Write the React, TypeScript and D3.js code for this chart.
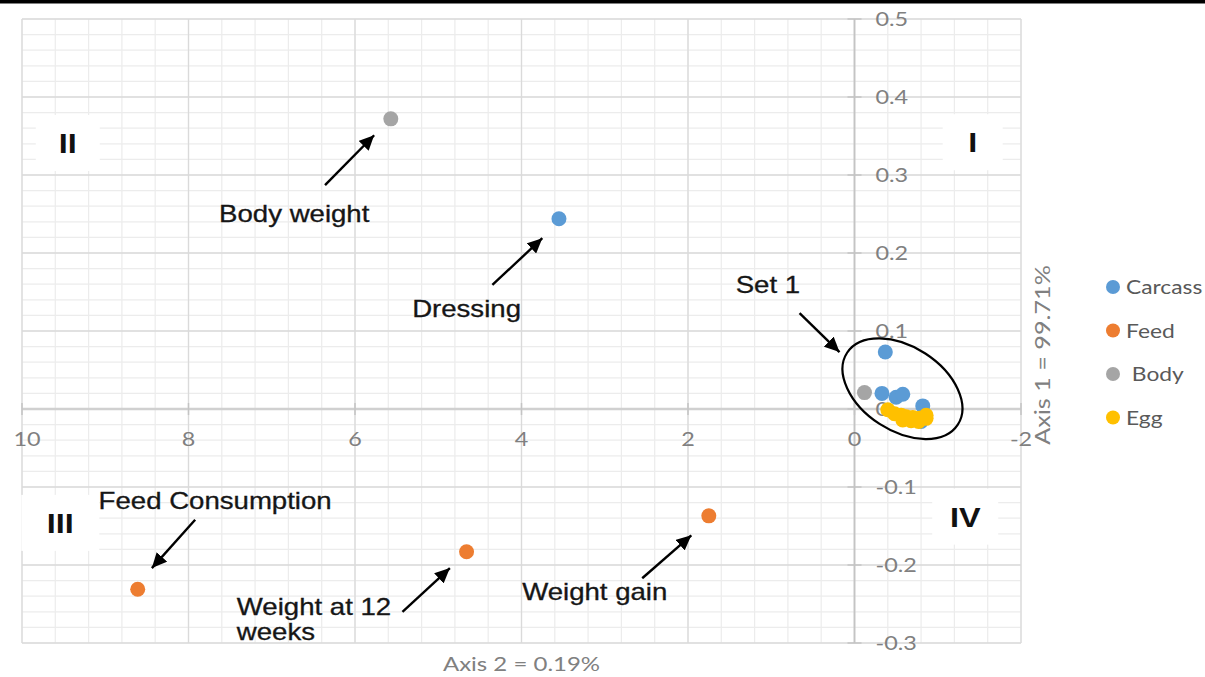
import React from "react";
import * as d3 from "d3";

const W = 1205;
const H = 677;

// ---- data ----
const seriesNames = ["Carcass", "Feed", "Body", "Egg"];
const legendLabels = ["Carcass", "Feed", " Body", "Egg"];
const seriesColors = ["#5B9BD5", "#ED7D31", "#A5A5A5", "#FFC000"];

const carcassX = [3.55, -0.37, -0.33, -0.5, -0.58, -0.82, -0.8, -0.7];
const carcassY = [0.244, 0.073, 0.02, 0.015, 0.019, 0.004, -0.016, -0.012];

const feedX = [8.61, 4.66, 1.75];
const feedY = [-0.231, -0.183, -0.137];

const bodyX = [5.57, -0.12];
const bodyY = [0.372, 0.021];

const eggX = [-0.4, -0.48, -0.56, -0.62, -0.7, -0.78, -0.86, -0.58, -0.68, -0.86, -0.77];
const eggY = [-0.001, -0.006, -0.008, -0.01, -0.011, -0.012, -0.012, -0.014, -0.015, -0.008, -0.016];

const xTicks = [10, 8, 6, 4, 2, 0, -2];
const xTickLabels = ["10", "8", "6", "4", "2", "0", "-2"];
const yTicks = [0.5, 0.4, 0.3, 0.2, 0.1, 0, -0.1, -0.2, -0.3];
const yTickLabels = ["0.5", "0.4", "0.3", "0.2", "0.1", "0", "-0.1", "-0.2", "-0.3"];

const xTitle = "Axis 2 = 0.19%";
const yTitle = "Axis 1 = 99.71%";

// annotations (data coordinates)
const annLabels = ["Body weight", "Dressing", "Set 1", "Feed Consumption", "Weight gain"];
const annX = [6.73, 4.66, 1.04, 7.68, 3.12];
const annY = [0.24, 0.118, 0.149, -0.128, -0.245];
const wk12Lines = ["Weight at 12", "weeks"];
const wk12X = 7.42;
const wk12Y = [-0.264, -0.296];

// arrows: tail -> tip
const arrowX1 = [6.36, 4.35, 0.66, 7.92, 5.43, 2.55];
const arrowY1 = [0.287, 0.159, 0.123, -0.142, -0.26, -0.217];
const arrowX2 = [5.77, 3.75, 0.18, 8.44, 4.86, 1.96];
const arrowY2 = [0.351, 0.219, 0.073, -0.204, -0.204, -0.162];

const quadLabels = ["II", "I", "III", "IV"];
const quadX = [9.45, -1.42, 9.54, -1.33];
const quadY = [0.341, 0.342, -0.146, -0.138];
const quadBoxW = [64, 60, 78, 66];

const setEllipseX = -0.576;
const setEllipseY = 0.026;

export default function App() {
  const x = d3.scaleLinear().domain([10, -2]).range([22, 1021]);
  const y = d3.scaleLinear().domain([-0.3, 0.5]).range([643, 19]);

  const minorX = d3.range(0, 31).map((k) => +(10 - 0.4 * k).toFixed(2));
  const minorY = d3.range(0, 41).map((k) => +(-0.3 + 0.02 * k).toFixed(3));

  const SX = 1.2;
  const tickFont = "Lato, 'Open Sans', sans-serif";
  const labFont = "'Liberation Sans', Arial, sans-serif";
  const tickColor = "#808080";

  const series = [
    { xs: carcassX, ys: carcassY },
    { xs: feedX, ys: feedY },
    { xs: bodyX, ys: bodyY },
    { xs: eggX, ys: eggY },
  ];

  const sText = (
    key: string,
    tx: number,
    ty: number,
    txt: string,
    props: any
  ) => (
    <text key={key} transform={`translate(${tx},${ty}) scale(${SX},1)`} {...props}>
      {txt}
    </text>
  );

  return (
    <div style={{ position: "absolute", left: 0, top: 0 }}>
      <svg width={W} height={H} style={{ display: "block", background: "#fff" }}>
        <defs>
          <marker
            id="ah"
            markerUnits="userSpaceOnUse"
            markerWidth={16}
            markerHeight={14}
            refX={15}
            refY={7}
            orient="auto"
          >
            <path d="M0,0 L15,7 L0,14 Z" fill="#000" />
          </marker>
        </defs>
        <rect x={0} y={0} width={W} height={3.5} fill="#000" />

        {/* minor grid */}
        <g stroke="#ececec" strokeWidth={1.2}>
          {minorX.map((v, i) => (
            <line key={"mx" + i} x1={x(v)} x2={x(v)} y1={y(0.5)} y2={y(-0.3)} />
          ))}
          {minorY.map((v, i) => (
            <line key={"my" + i} x1={x(10)} x2={x(-2)} y1={y(v)} y2={y(v)} />
          ))}
        </g>
        {/* major grid */}
        <g stroke="#dadada" strokeWidth={1.3}>
          {xTicks.map((v, i) => (
            <line key={"Mx" + i} x1={x(v)} x2={x(v)} y1={y(0.5)} y2={y(-0.3)} />
          ))}
          {yTicks.map((v, i) => (
            <line key={"My" + i} x1={x(10)} x2={x(-2)} y1={y(v)} y2={y(v)} />
          ))}
        </g>

        {/* axes */}
        <line x1={x(10)} x2={x(-2)} y1={y(0)} y2={y(0)} stroke="#d0d0d0" strokeWidth={2.5} />
        <line x1={x(0)} x2={x(0)} y1={y(0.5)} y2={y(-0.3)} stroke="#c4c4c4" strokeWidth={1.8} />
        <g stroke="#c4c4c4" strokeWidth={1.5}>
          {yTicks.map((v, i) => (
            <line key={"yt" + i} x1={x(0) - 7} x2={x(0) + 7} y1={y(v)} y2={y(v)} />
          ))}
          {xTicks.map((v, i) => (
            <line key={"xt" + i} x1={x(v)} x2={x(v)} y1={y(0) - 6} y2={y(0) + 6} />
          ))}
        </g>

        {/* tick labels */}
        <g fontFamily={tickFont} fontSize={19.5} fill={tickColor}>
          {xTicks.map((v, i) =>
            sText("xl" + i, x(v) + (i === 0 ? 5 : 0), y(0) + 37, xTickLabels[i], {
              textAnchor: "middle",
            })
          )}
          {yTicks.map((v, i) =>
            sText("yl" + i, x(0) + 21, y(v) + 7, yTickLabels[i], {
              textAnchor: "start",
            })
          )}
        </g>

        {/* quadrant labels */}
        {quadLabels.map((q, i) => (
          <g key={"q" + i}>
            <rect
              x={x(quadX[i]) - quadBoxW[i] / 2}
              y={y(quadY[i]) - 28}
              width={quadBoxW[i]}
              height={56}
              fill="#fff"
            />
            {sText("qt" + i, x(quadX[i]), y(quadY[i]) + 10, q, {
              textAnchor: "middle",
              fontFamily: labFont,
              fontWeight: "bold",
              fontSize: 27,
              fill: "#111",
            })}
          </g>
        ))}

        {/* arrows */}
        <g stroke="#000" strokeWidth={2.4}>
          {arrowX1.map((v, i) => (
            <line
              key={"ar" + i}
              x1={x(v)}
              y1={y(arrowY1[i])}
              x2={x(arrowX2[i])}
              y2={y(arrowY2[i])}
              markerEnd="url(#ah)"
            />
          ))}
        </g>

        {/* annotation text */}
        <g fontFamily={labFont} fontSize={23} fill="#161616" stroke="#161616" strokeWidth={0.3}>
          {annLabels.map((t, i) =>
            sText("an" + i, x(annX[i]), y(annY[i]), t, { textAnchor: "middle" })
          )}
          {wk12Lines.map((t, i) =>
            sText("wk" + i, x(wk12X), y(wk12Y[i]), t, { textAnchor: "start" })
          )}
        </g>

        {/* points */}
        {series.map((s, si) => (
          <g key={"s" + si} fill={seriesColors[si]}>
            {s.xs.map((v, i) => (
              <circle key={i} cx={x(v)} cy={y(s.ys[i])} r={7.5} />
            ))}
          </g>
        ))}

        {/* set 1 ellipse */}
        <ellipse
          cx={0}
          cy={0}
          rx={66}
          ry={42}
          transform={`translate(${x(setEllipseX)},${y(setEllipseY)}) rotate(33)`}
          fill="none"
          stroke="#000"
          strokeWidth={2.2}
        />

        {/* legend */}
        <g fontFamily={tickFont} fontSize={19} fill="#595959">
          {seriesNames.map((n, i) => (
            <g key={"lg" + i}>
              <circle cx={1113} cy={287 + i * 43.5} r={7} fill={seriesColors[i]} />
              {sText("lt" + i, 1126, 287 + i * 43.5 + 7, legendLabels[i], {
                textAnchor: "start",
                style: { whiteSpace: "pre" },
              })}
            </g>
          ))}
        </g>

        {/* axis titles */}
        <g fontFamily={tickFont} fontSize={20} fill={tickColor}>
          {sText("xt", (x(10) + x(-2)) / 2, 671, xTitle, { textAnchor: "middle" })}
          <text
            transform={`translate(1050,355) rotate(-90) scale(${SX},1)`}
            textAnchor="middle"
            fontSize={21}
          >
            {yTitle}
          </text>
        </g>
      </svg>
    </div>
  );
}
